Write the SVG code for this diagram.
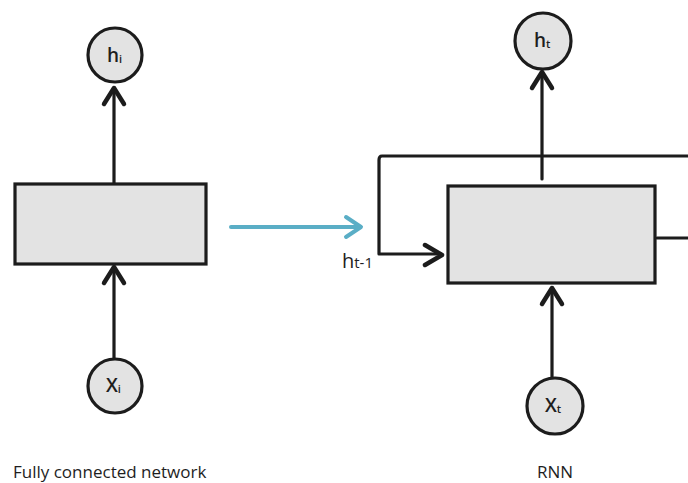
<svg xmlns="http://www.w3.org/2000/svg" width="688" height="483" viewBox="0 0 688 483">
  <style>
    .shape { fill: #e3e3e3; stroke: #1c1c1c; stroke-width: 3.2; }
    .wire { fill: none; stroke: #1c1c1c; stroke-width: 3.2; stroke-linecap: round; stroke-linejoin: round; }
    .head { fill: none; stroke: #1c1c1c; stroke-width: 4.5; stroke-linecap: round; stroke-linejoin: round; }
    .lbl { font-family: "Open Sans", "Liberation Sans", sans-serif; fill: #1e1e1e; }
    .sym { font-size: 19px; font-weight: 600; }
    .sub { font-size: 11px; font-weight: 600; }
    .cap { font-size: 17px; }
  </style>
  <rect width="688" height="483" fill="#ffffff"/>

  <!-- connectors -->
  <g id="connectors">
    <!-- fully connected: x_i -> box -> h_i -->
    <path class="wire" d="M114 358 V268"/>
    <path class="head" d="M104 283 L114 267 L124 283"/>
    <path class="wire" d="M114 184 V88"/>
    <path class="head" d="M104 104 L114 88 L124 104"/>

    <!-- transition arrow -->
    <path d="M231 227 H360" fill="none" stroke="#5aaec6" stroke-width="4" stroke-linecap="round"/>
    <path d="M346 217 L361 227 L346 237" fill="none" stroke="#5aaec6" stroke-width="4" stroke-linecap="round" stroke-linejoin="round"/>

    <!-- RNN: x_t -> box -> h_t, with recurrent loop -->
    <path class="wire" d="M552 378 V288"/>
    <path class="head" d="M542 304 L552 288 L562 304"/>
    <path class="wire" d="M542 179 V72"/>
    <path class="head" d="M532 88 L542 72 L552 88"/>
    <path class="wire" d="M688 156 H382 Q379 156 379 160 V254 H441"/>
    <path class="head" d="M425 245 L442 255 L425 265"/>
    <path class="wire" d="M657 238 H688"/>
  </g>

  <!-- fully connected network -->
  <g id="fc-out">
    <circle class="shape" cx="115" cy="55" r="27"/>
    <text class="lbl" x="107" y="62"><tspan class="sym">h</tspan><tspan class="sub" dy="1">i</tspan></text>
  </g>
  <g id="fc-layer">
    <rect class="shape" x="15" y="184" width="191" height="80"/>
  </g>
  <g id="fc-in">
    <circle class="shape" cx="115" cy="386" r="27"/>
    <text class="lbl" x="106" y="392"><tspan class="sym" font-weight="400">X</tspan><tspan class="sub" dy="1">i</tspan></text>
  </g>
  <g id="fc-caption">
    <text class="lbl cap" x="13" y="478">Fully connected network</text>
  </g>

  <!-- recurrent network -->
  <g id="rnn-out">
    <circle class="shape" cx="543" cy="41" r="28"/>
    <text class="lbl" x="534" y="47"><tspan class="sym">h</tspan><tspan class="sub" dy="1">t</tspan></text>
  </g>
  <g id="rnn-layer">
    <rect class="shape" x="448" y="186" width="207" height="97"/>
  </g>
  <g id="rnn-in">
    <circle class="shape" cx="555" cy="406" r="28"/>
    <text class="lbl" x="545" y="412"><tspan class="sym" font-weight="400">X</tspan><tspan class="sub" dy="1">t</tspan></text>
  </g>
  <g id="rnn-prev">
    <text class="lbl" x="342" y="268"><tspan font-size="20">h</tspan><tspan font-size="15">t-1</tspan></text>
  </g>
  <g id="rnn-caption">
    <text class="lbl cap" x="555" y="478" text-anchor="middle">RNN</text>
  </g>
</svg>
